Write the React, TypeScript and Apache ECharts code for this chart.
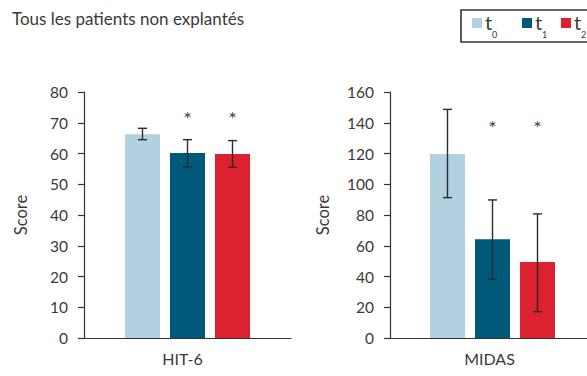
import React, { useEffect, useRef } from "react";
import * as echarts from "echarts";

const TITLE = "Tous les patients non explantés";
const SERIES_NAMES = ["t0", "t1", "t2"];
const SUBSCRIPTS = ["0", "1", "2"];
const COLORS = ["#b2d0df", "#00597b", "#dc2131"];

const HIT6_CATEGORY = ["HIT-6"];
const HIT6_MEANS = [66.3, 60.2, 59.8];
const HIT6_ERR_LOW = [64.5, 55.6, 55.5];
const HIT6_ERR_HIGH = [68.2, 64.5, 64.2];
const HIT6_SIG = [false, true, true];
const HIT6_STAR_Y = 73;

const MIDAS_CATEGORY = ["MIDAS"];
const MIDAS_MEANS = [119.6, 64.3, 49.4];
const MIDAS_ERR_LOW = [91.3, 38.2, 17.1];
const MIDAS_ERR_HIGH = [148.7, 89.8, 80.7];
const MIDAS_SIG = [false, true, true];
const MIDAS_STAR_Y = 140;

const FONT = "Lato, 'Open Sans', sans-serif";
const TEXT = "#3a3a3a";
const BAR_W = 35;
const BAR_GAP = 10;

export default function App() {
  const ref = useRef<HTMLDivElement>(null);
  useEffect(() => {
    const chart = echarts.init(ref.current!, undefined, { renderer: "svg" });

    const yAxisBase = (max: number, interval: number, gap: number) => ({
      type: "value",
      min: 0,
      max,
      interval,
      name: "Score",
      nameLocation: "middle",
      nameGap: gap,
      nameTextStyle: { color: TEXT, fontSize: 16.5, fontFamily: FONT },
      axisLine: { show: true, lineStyle: { color: "#333", width: 1.2 } },
      axisTick: { show: true, length: 6, lineStyle: { color: "#333", width: 1.2 } },
      axisLabel: { color: TEXT, fontSize: 15.5, fontFamily: FONT, margin: 16 },
      splitLine: { show: false },
    });
    const xAxisBase = (gridIndex: number, data: string[], shift: number) => ({
      type: "category",
      gridIndex,
      data,
      axisLine: { show: true, lineStyle: { color: "#333", width: 1.2 } },
      axisTick: { show: false },
      axisLabel: {
        color: TEXT,
        fontSize: 16,
        fontFamily: FONT,
        margin: 12,
        padding: [0, shift, 0, 0],
      },
    });

    const barSeries = (axis: number, means: number[]) =>
      means.map((v, i) => ({
        type: "bar",
        name: SERIES_NAMES[i],
        xAxisIndex: axis,
        yAxisIndex: axis,
        data: [v],
        barWidth: BAR_W,
        barGap: `${(BAR_GAP / BAR_W) * 100}%`,
        itemStyle: { color: COLORS[i] },
      }));

    const errSeries = (axis: number, lo: number[], hi: number[], sig: boolean[], starY: number) => ({
      type: "custom",
      xAxisIndex: axis,
      yAxisIndex: axis,
      z: 10,
      itemStyle: { color: "#444" },
      data: lo.map((l, i) => [0, i, l, hi[i], sig[i] ? 1 : 0]),
      encode: { x: 0, y: [2, 3] },
      renderItem: (params: any, api: any) => {
        const bi = api.value(1) as number;
        const pLo = api.coord([0, api.value(2)]);
        const pHi = api.coord([0, api.value(3)]);
        const n = lo.length;
        const x = pLo[0] + (bi - (n - 1) / 2) * (BAR_W + BAR_GAP);
        const cap = 4.5;
        const style = { stroke: "#2b2b2b", lineWidth: 1.4 };
        const children: any[] = [
          { type: "line", shape: { x1: x, y1: pLo[1], x2: x, y2: pHi[1] }, style },
          { type: "line", shape: { x1: x - cap, y1: pLo[1], x2: x + cap, y2: pLo[1] }, style },
          { type: "line", shape: { x1: x - cap, y1: pHi[1], x2: x + cap, y2: pHi[1] }, style },
        ];
        if (api.value(4)) {
          const ps = api.coord([0, starY]);
          children.push({
            type: "text",
            style: {
              text: "*",
              x,
              y: ps[1] + 4,
              align: "center",
              verticalAlign: "middle",
              fill: "#444",
              font: `20px ${FONT}`,
            },
          });
        }
        return { type: "group", children };
      },
    });

    const legendItems: any[] = [];
    const legendX = [472, 522, 561];
    SERIES_NAMES.forEach((_, i) => {
      legendItems.push({
        type: "rect",
        shape: { x: legendX[i], y: 18, width: 10, height: 10 },
        style: { fill: COLORS[i] },
      });
      legendItems.push({
        type: "text",
        x: legendX[i] + 13,
        y: 32,
        style: {
          text: "t",
          fill: TEXT,
          font: `20px ${FONT}`,
          verticalAlign: "bottom",
        },
      });
      legendItems.push({
        type: "text",
        x: legendX[i] + 20,
        y: 39,
        style: {
          text: SUBSCRIPTS[i],
          fill: TEXT,
          font: `9px ${FONT}`,
          verticalAlign: "bottom",
        },
      });
    });

    chart.setOption({
      animation: false,
      textStyle: { fontFamily: FONT },
      grid: [
        { left: 84, top: 92, width: 207, height: 246, outerBoundsMode: "none" },
        { left: 390, top: 92, width: 205, height: 246, outerBoundsMode: "none" },
      ],
      xAxis: [xAxisBase(0, HIT6_CATEGORY, 10), xAxisBase(1, MIDAS_CATEGORY, 6)],
      yAxis: [
        { ...yAxisBase(80, 10, 55), gridIndex: 0 },
        { ...yAxisBase(160, 20, 59), gridIndex: 1 },
      ],
      series: [
        ...barSeries(0, HIT6_MEANS),
        ...barSeries(1, MIDAS_MEANS),
        errSeries(0, HIT6_ERR_LOW, HIT6_ERR_HIGH, HIT6_SIG, HIT6_STAR_Y),
        errSeries(1, MIDAS_ERR_LOW, MIDAS_ERR_HIGH, MIDAS_SIG, MIDAS_STAR_Y),
      ],
      graphic: [
        {
          type: "text",
          left: 12,
          top: 10,
          style: { text: TITLE, fill: TEXT, font: `17px ${FONT}` },
        },
        {
          type: "rect",
          shape: { x: 461, y: 10, width: 140, height: 32 },
          style: { fill: "none", stroke: "#333", lineWidth: 1.6 },
        },
        ...legendItems,
      ],
    });
    return () => chart.dispose();
  }, []);
  return (
    <div
      ref={ref}
      style={{ position: "fixed", left: 0, top: 0, width: 587, height: 376, background: "#fff" }}
    />
  );
}
